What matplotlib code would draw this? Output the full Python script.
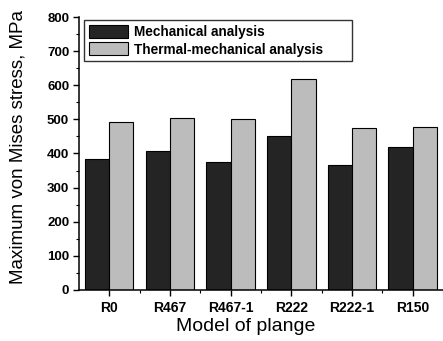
import numpy as np
import matplotlib
matplotlib.use("Agg")
import matplotlib.pyplot as plt
from matplotlib.ticker import MultipleLocator

plt.rcParams["font.family"] = ["Liberation Sans", "DejaVu Sans"]

models = ["R0", "R467", "R467-1", "R222", "R222-1", "R150"]
mechanical = [383, 408, 375, 452, 365, 419]
thermal_mech = [492, 505, 502, 618, 475, 479]

fig = plt.figure(figsize=(4.43, 3.41), dpi=100)
ax = fig.add_axes([0.178, 0.150, 0.822, 0.800])

x = np.arange(len(models))
w = 0.40
ax.bar(x - w / 2, mechanical, w, color="#242424", edgecolor="black",
       linewidth=0.8, label="Mechanical analysis")
ax.bar(x + w / 2, thermal_mech, w, color="#bcbcbc", edgecolor="black",
       linewidth=0.8, label="Thermal-mechanical analysis")

ax.set_xlim(-0.5, 5.40)
ax.set_ylim(0, 800)
ax.set_xticks(x)
ax.set_xticklabels(models, fontsize=10, fontweight="bold")
ax.set_xticks(x + 0.5, minor=True)
ax.yaxis.set_major_locator(MultipleLocator(100))
ax.yaxis.set_minor_locator(MultipleLocator(50))
for lab in ax.get_yticklabels():
    lab.set_fontweight("bold")
    lab.set_fontsize(9.5)
ax.tick_params(which="major", direction="out", length=4, width=1, pad=3)
ax.tick_params(which="minor", direction="out", length=2, width=0.8)
ax.tick_params(axis="x", which="major", pad=4)

ax.spines["top"].set_visible(False)
ax.spines["right"].set_visible(False)
ax.spines["left"].set_linewidth(1.1)
ax.spines["bottom"].set_linewidth(1.1)

ax.set_xlabel("Model of plange", fontsize=14, labelpad=3)
ax.xaxis.set_label_coords(0.459, -0.105)
ax.set_ylabel("Maximum von Mises stress, MPa", fontsize=13.5)
ax.yaxis.set_label_coords(-0.143, 0.524)

# legend box spans roughly x 84-352 px, top at 20 px in the reference
leg = ax.legend(loc="upper left", bbox_to_anchor=(0.014, 0.989, 0.736, 0.0),
                mode="expand", borderaxespad=0,
                frameon=True, fancybox=False, edgecolor="black",
                handlelength=2.9, handleheight=1.1, borderpad=0.35,
                labelspacing=0.25, handletextpad=0.4,
                prop={"weight": "bold", "size": 9.8})
leg.get_frame().set_linewidth(1.0)

fig.savefig("out.png", dpi=100)
